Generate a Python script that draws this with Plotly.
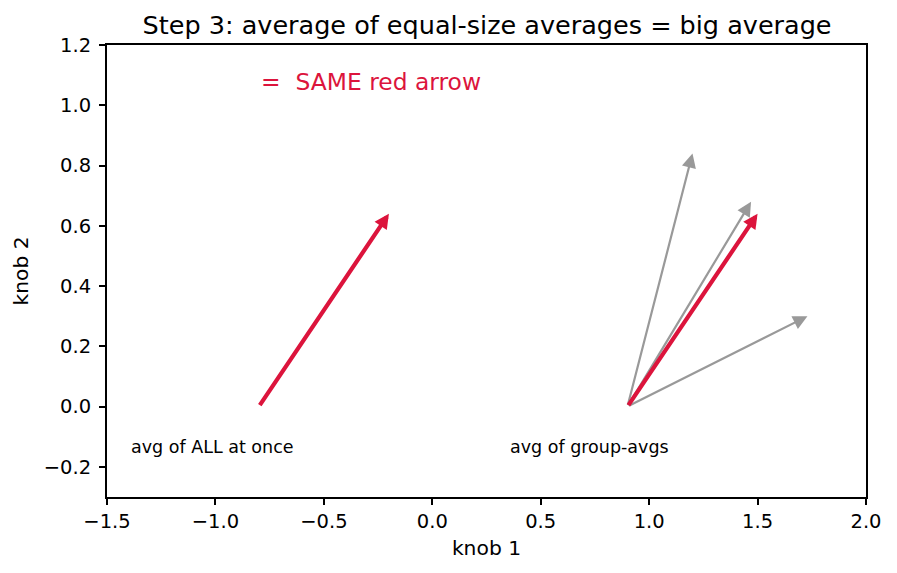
import plotly.graph_objects as go

# ---- data ----
x_ticks = [-1.5, -1.0, -0.5, 0.0, 0.5, 1.0, 1.5, 2.0]
x_tick_labels = ["\u22121.5", "\u22121.0", "\u22120.5", "0.0", "0.5", "1.0", "1.5", "2.0"]
y_ticks = [-0.2, 0.0, 0.2, 0.4, 0.6, 0.8, 1.0, 1.2]
y_tick_labels = ["\u22120.2", "0.0", "0.2", "0.4", "0.6", "0.8", "1.0", "1.2"]

left_origin = (-0.8, 0.0)
right_origin = (0.9, 0.0)
group_avg_dx = [0.30, 0.57, 0.83]
group_avg_dy = [0.84, 0.68, 0.30]
big_avg = (0.60, 0.64)

label_texts = ["avg of ALL at once", "avg of group-avgs"]
label_x = [-1.4, 0.35]
label_y = [-0.135, -0.135]
note_text = "=  SAME red arrow"
note_pos = (-0.8, 1.077)

RED = "#DC143C"
GRAY = "#999999"
FONT = "DejaVu Sans, sans-serif"

fig = go.Figure()
# invisible trace to establish axes
fig.add_trace(go.Scatter(x=[left_origin[0], right_origin[0]], y=[left_origin[1], right_origin[1]],
                         mode="markers", marker=dict(opacity=0), showlegend=False, hoverinfo="skip"))

annotations = []

def arrow(x0, y0, dx, dy, color, width, size):
    return dict(x=x0 + dx, y=y0 + dy, ax=x0, ay=y0, xref="x", yref="y", axref="x", ayref="y",
                text="", showarrow=True, arrowhead=2, arrowsize=size, arrowwidth=width,
                arrowcolor=color, standoff=0, startstandoff=0)

for dx, dy in zip(group_avg_dx, group_avg_dy):
    annotations.append(arrow(right_origin[0], right_origin[1], dx, dy, GRAY, 2.2, 1.3))
annotations.append(arrow(right_origin[0], right_origin[1], big_avg[0], big_avg[1], RED, 4.2, 0.7))
annotations.append(arrow(left_origin[0], left_origin[1], big_avg[0], big_avg[1], RED, 4.2, 0.7))

for t, lx, ly in zip(label_texts, label_x, label_y):
    annotations.append(dict(x=lx, y=ly, xref="x", yref="y", text=t, showarrow=False,
                            xanchor="left", yanchor="middle", font=dict(size=17.5, color="black", family=FONT)))
annotations.append(dict(x=note_pos[0], y=note_pos[1], xref="x", yref="y", text=note_text, showarrow=False,
                        xanchor="left", yanchor="middle", font=dict(size=23.4, color=RED, family=FONT)))

axis_common = dict(showline=True, linecolor="black", linewidth=2, mirror=True, ticks="outside",
                   ticklen=6, tickwidth=1.5, tickcolor="black", showgrid=False, zeroline=False,
                   tickfont=dict(size=19.5, color="black", family=FONT),
                   title_font=dict(size=20.3, color="black", family=FONT))

fig.update_layout(
    width=897, height=573,
    margin=dict(l=107, r=31, t=45, b=76),
    paper_bgcolor="white", plot_bgcolor="white",
    title=dict(text="Step 3: average of equal-size averages = big average", x=0.543, xanchor="center",
               y=0.956, yanchor="middle", font=dict(size=25.5, color="black", family=FONT)),
    xaxis=dict(range=[-1.5, 2.0], tickvals=x_ticks, ticktext=x_tick_labels,
               title=dict(text="knob 1", standoff=8), **axis_common),
    yaxis=dict(range=[-0.3, 1.2], tickvals=y_ticks, ticktext=y_tick_labels, ticklabelstandoff=4,
               title=dict(text="knob 2", standoff=10), **axis_common),
    annotations=annotations,
    showlegend=False,
)

fig.write_html("out.html")
